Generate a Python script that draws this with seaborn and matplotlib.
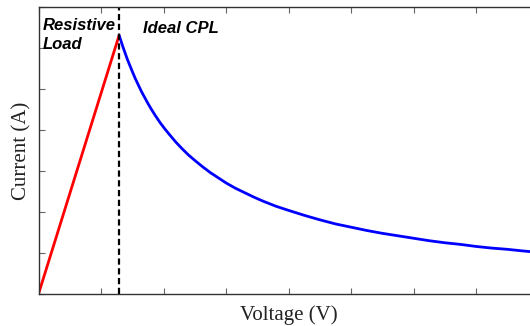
import matplotlib
matplotlib.use("Agg")
import matplotlib.pyplot as plt
import seaborn as sns
import pandas as pd

# resistive load branch (V, I)
res_v = [0.0, 1.29]
res_i = [0.0, 6.31]

# ideal constant power load branch
cpl_v = [1.29, 1.32, 1.35, 1.39, 1.42, 1.46, 1.5, 1.55, 1.6, 1.65, 1.7, 1.75, 1.8,
         1.87, 1.95, 2.02, 2.1, 2.2, 2.3, 2.4, 2.5, 2.62, 2.75, 2.88, 3.0, 3.15,
         3.3, 3.45, 3.6, 3.8, 4.0, 4.25, 4.5, 4.75, 5.0, 5.25, 5.5, 5.75, 6.0,
         6.25, 6.5, 6.75, 7.0, 7.25, 7.5, 7.75, 7.9]
cpl_i = [6.31, 6.17, 6.03, 5.86, 5.73, 5.58, 5.43, 5.25, 5.09, 4.93, 4.79, 4.65, 4.52,
         4.35, 4.17, 4.03, 3.88, 3.70, 3.54, 3.39, 3.26, 3.11, 2.96, 2.83, 2.71, 2.58,
         2.47, 2.36, 2.26, 2.14, 2.04, 1.92, 1.81, 1.71, 1.63, 1.55, 1.48, 1.42, 1.36,
         1.30, 1.25, 1.21, 1.16, 1.12, 1.09, 1.05, 1.03]

boundary_v = 1.29

sns.set_style("ticks")
plt.rcParams['font.family'] = ['Liberation Serif', 'DejaVu Serif']

fig = plt.figure(figsize=(5.30, 3.26), dpi=100)
ax = fig.add_axes([38.5 / 530, 32 / 326, 500 / 530, 287 / 326])

res = pd.DataFrame({'v': res_v, 'i': res_i})
cpl = pd.DataFrame({'v': cpl_v, 'i': cpl_i})
sns.lineplot(data=res, x='v', y='i', color='#ff0000', lw=2.0, sort=False, ax=ax)
sns.lineplot(data=cpl, x='v', y='i', color='#0000ff', lw=2.0, sort=False, ax=ax)
ax.axvline(boundary_v, color='black', lw=1.6, ls=(0, (2.8, 1.6)))

ax.set_xlim(0, 8)
ax.set_ylim(0, 7)
ax.set_xticks(range(0, 9))
ax.set_yticks(range(0, 8))
ax.tick_params(direction='in', length=4, width=0.8, color='#666666',
               labelleft=False, labelbottom=False, top=True, right=False)
for s in ax.spines.values():
    s.set_color('#333333')
    s.set_linewidth(1.0)

ax.set_xlabel('Voltage (V)', fontsize=15, color='#222222', labelpad=8)
ax.set_ylabel('Current (A)', fontsize=15, color='#222222', labelpad=5)

bold_it = dict(family=['Liberation Sans', 'DejaVu Sans'], fontweight='bold',
               fontstyle='italic', fontsize=12, color='black')
ax.text(0.07, 5.9, 'Resistive\nLoad', ha='left', va='bottom', linespacing=1.3, **bold_it)
ax.text(1.67, 6.3, 'Ideal CPL', ha='left', va='bottom', **bold_it)

fig.savefig('out.png', dpi=100)
